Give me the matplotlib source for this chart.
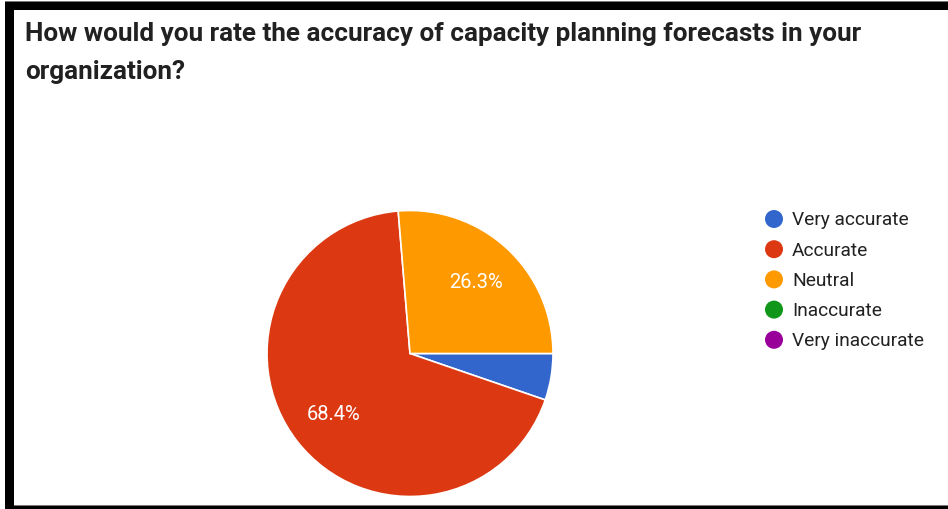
import matplotlib
matplotlib.use("Agg")
import matplotlib.pyplot as plt
from matplotlib.patches import Rectangle, Circle

plt.rcParams["font.family"] = ["Roboto", "DejaVu Sans"]

# Survey responses
question = "How would you rate the accuracy of capacity planning forecasts in your\norganization?"
categories = ["Very accurate", "Accurate", "Neutral", "Inaccurate", "Very inaccurate"]
counts = [1, 13, 5, 0, 0]
colors = ["#3366cc", "#dc3912", "#ff9900", "#109618", "#990099"]

W, H = 948, 510
DPI = 100
fig = plt.figure(figsize=(W / DPI, H / DPI), dpi=DPI)
fig.patch.set_facecolor("white")


def px_axes(x0, y0, w, h):
    # axes placed with pixel coordinates measured from the top-left corner
    return fig.add_axes([x0 / W, 1 - (y0 + h) / H, w / W, h / H])


# pie
cx, cy, r = 410, 354.5, 143
ax = px_axes(cx - r, cy - r, 2 * r, 2 * r)


def fmt_pct(p):
    return f"{p:.1f}%" if p >= 10 else ""


shown = [(c, col) for c, col in zip(counts, colors) if c > 0]
wedges, _, autotexts = ax.pie(
    [c for c, _ in shown],
    colors=[col for _, col in shown],
    startangle=0,
    counterclock=False,
    radius=1,
    autopct=fmt_pct,
    pctdistance=0.68,
    wedgeprops=dict(edgecolor="white", linewidth=1.2),
    textprops=dict(color="white", fontsize=14.5),
)
ax.set_xlim(-1, 1)
ax.set_ylim(-1, 1)
ax.set_aspect("equal")
ax.axis("off")

top = px_axes(0, 0, W, H)
top.set_xlim(0, W)
top.set_ylim(H, 0)
top.axis("off")
top.patch.set_alpha(0)

# frame
top.add_patch(Rectangle((5, 2), W - 5, 1.2, color="#777777", lw=0))
top.add_patch(Rectangle((5, 3), W - 5, 8, color="black", lw=0))
top.add_patch(Rectangle((5, 3), 9, H - 3, color="black", lw=0))
top.add_patch(Rectangle((14, 505.5), W - 14, 1.2, color="#777777", lw=0))
top.add_patch(Rectangle((5, 506.5), W - 5, 4, color="black", lw=0))

# title
line1, line2 = question.split("\n")
top.text(25, 41, line1, fontsize=18.8, fontweight="bold",
         color="#212121", va="baseline", ha="left")
top.text(25, 79, line2, fontsize=18.8, fontweight="bold",
         color="#212121", va="baseline", ha="left")

# legend
for i, (name, col) in enumerate(zip(categories, colors)):
    y = 220 + i * 30.2
    top.add_patch(Circle((774, y), 9, color=col, lw=0))
    top.text(792, y + 0.5, name, fontsize=13.8, color="#222222",
             va="center", ha="left")

fig.savefig("out.png", dpi=DPI)
